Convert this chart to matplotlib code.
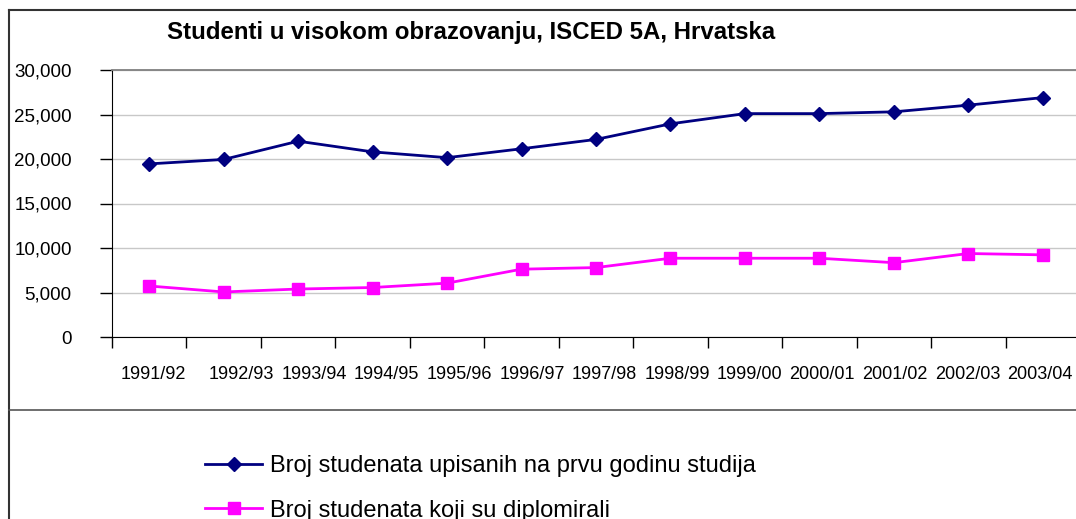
import matplotlib.pyplot as plt
from matplotlib.lines import Line2D
from matplotlib.ticker import FuncFormatter

plt.rcParams['font.family'] = ['Liberation Sans', 'DejaVu Sans']

years = ['1991/92', '1992/93', '1993/94', '1994/95', '1995/96', '1996/97', '1997/98',
         '1998/99', '1999/00', '2000/01', '2001/02', '2002/03', '2003/04']
upisani = [19450, 19950, 22000, 20800, 20150, 21150, 22200,
           23950, 25100, 25100, 25300, 26050, 26900]
diplomirali = [5730, 5060, 5390, 5560, 6050, 7620, 7800,
               8850, 8850, 8850, 8350, 9380, 9230]

W, H = 1076, 519
fig = plt.figure(figsize=(W / 100, H / 100), dpi=100)

# plot area in pixels: left 112, right 1080 (past the edge), top 70, bottom 337
ax = fig.add_axes([112 / W, 1 - 337 / H, 968 / W, 267 / H])
x = list(range(len(years)))

ax.plot(x, upisani, color='#000080', lw=2, marker='D', ms=7.5, clip_on=False, zorder=3,
        label='Broj studenata upisanih na prvu godinu studija')
ax.plot(x, diplomirali, color='#FF00FF', lw=2, marker='s', ms=8.5, clip_on=False, zorder=3,
        label='Broj studenata koji su diplomirali')

ax.set_xlim(-0.5, len(years) - 0.5)
ax.set_ylim(0, 30000)
ax.set_yticks(range(0, 30001, 5000))
ax.yaxis.set_major_formatter(FuncFormatter(lambda v, p: f'{int(v):,}'))
ax.grid(axis='y', color='#c8c8c8', lw=1)
ax.set_axisbelow(True)

# category boundaries get the ticks; labels are packed the way Excel spaced them
ax.set_xticks([i - 0.5 for i in range(len(years) + 1)])
ax.set_xticklabels([])
label_pos = [0.05] + [1.24 + (i - 1) * 0.975 for i in range(1, len(years))]
ax.set_xticks(label_pos, minor=True)
ax.set_xticklabels(years, minor=True, fontsize=13)
ax.tick_params(axis='x', which='minor', length=0, pad=21)
ax.tick_params(axis='x', which='major', length=8, width=1, color='black', direction='out')
ax.tick_params(axis='y', length=9, width=1, color='black', labelsize=13.5, pad=20)

ax.spines['right'].set_visible(False)
ax.spines['top'].set_color('#808080')
ax.spines['top'].set_linewidth(1.3)
ax.spines['left'].set_color('black')
ax.spines['bottom'].set_color('black')

fig.text(471 / W, 1 - 33 / H, 'Studenti u visokom obrazovanju, ISCED 5A, Hrvatska',
         ha='center', va='center', fontsize=17.3, fontweight='bold')

# outer frame and separator above the legend
fig.add_artist(Line2D([9 / W, 9 / W], [0, 1 - 10 / H], color='#333333', lw=1.5))
fig.add_artist(Line2D([9 / W, 1], [1 - 10 / H, 1 - 10 / H], color='#333333', lw=1.5))
fig.add_artist(Line2D([9 / W, 1], [1 - 410 / H, 1 - 410 / H], color='#555555', lw=1.2))

leg = fig.legend(loc='upper left', bbox_to_anchor=(184 / W, 1 - 434 / H), frameon=False,
                 handlelength=2.4, handletextpad=0.35, labelspacing=0.95,
                 prop={'size': 17})

fig.savefig('out.png', dpi=100)
